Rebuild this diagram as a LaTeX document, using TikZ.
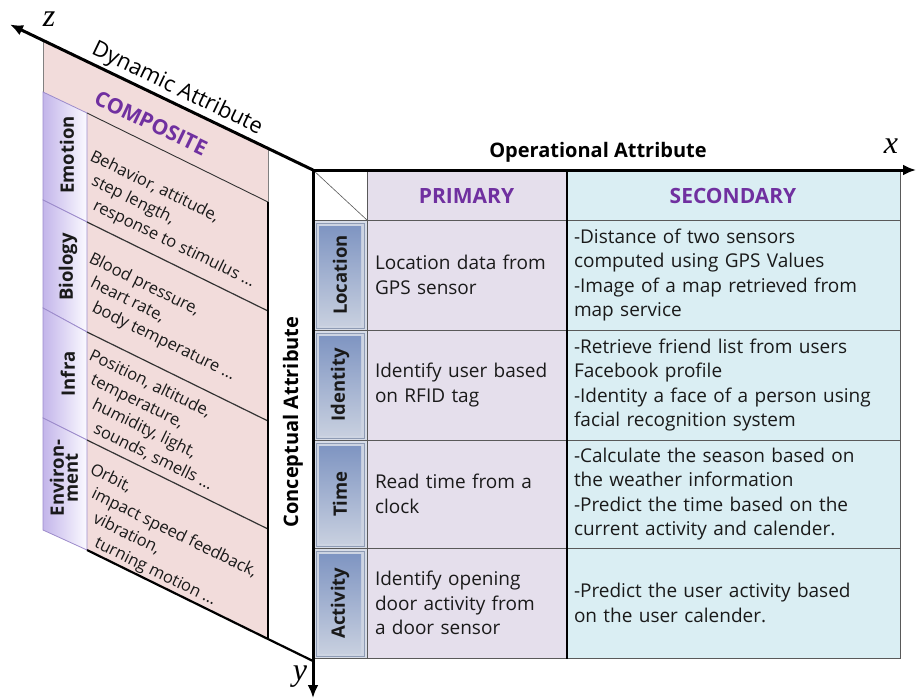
\documentclass[tikz,border=0pt]{standalone}
\usepackage{fontspec}
\setmainfont{Open Sans}[WordSpace=1.6]
\newfontfamily\panelfont{Open Sans}
\newfontfamily\axisfont{Liberation Serif}
\usetikzlibrary{arrows.meta}

\definecolor{pinkfill}{HTML}{F2DCDB}
\definecolor{primfill}{HTML}{E5DFEC}
\definecolor{secfill}{HTML}{DAEEF3}
\definecolor{gridline}{HTML}{595959}
\definecolor{headpurple}{HTML}{7030A0}
\definecolor{lavdark}{HTML}{C3B5EA}
\definecolor{lavlight}{HTML}{FBFAFF}
\definecolor{lavedge}{HTML}{9C8BCB}
\definecolor{btntop}{HTML}{7F95C2}
\definecolor{btnbot}{HTML}{C7CFDF}
\definecolor{btnframe}{HTML}{CDD4E2}
\definecolor{btnedge}{HTML}{8E9BB4}
\definecolor{labelcol}{HTML}{D7DCE7}
\definecolor{inktext}{HTML}{1A1A1A}

\newcommand\tblfont{\fontsize{19}{24.5}\selectfont}
\newcommand\pnlfont{\panelfont\fontsize{16.5}{21.4}\selectfont}
% indent of each further line of a slanted block
\newcommand\ind[1]{\hspace*{#1pt}}

\begin{document}
\begin{tikzpicture}[x=1pt,y=-1pt,
  axisline/.style={line width=3pt,-{Latex[length=13pt,width=11pt]}},
  axislabel/.style={font=\axisfont\itshape\fontsize{32}{32}\selectfont,inner sep=0pt},
  title/.style={font=\panelfont\fontsize{20}{24}\selectfont\bfseries,text=black},
  tblcell/.style={draw=gridline,line width=1pt,inner xsep=8pt,inner ysep=0pt,
    align=left,font=\tblfont,text=inktext},
  primcell/.style={tblcell,fill=primfill,text width=183pt},
  seccell/.style={tblcell,fill=secfill,text width=318pt},
  lblcell/.style={draw=gridline,line width=1pt,fill=labelcol,minimum width=54pt,inner sep=0pt},
  headtext/.style={font=\fontsize{21}{24}\selectfont\bfseries,text=headpurple},
  rowlbl/.style={rotate=90,font=\fontsize{18.5}{20}\selectfont\bfseries,text=inktext},
  dynlbl/.style={rotate=90,font=\fontsize{18.5}{18}\selectfont\bfseries,text=inktext,align=center},
  slantblock/.style={rotate=-26,anchor=north west,font=\pnlfont,text=inktext,inner sep=0pt,align=left},
  sepline/.style={draw=black!80,line width=1.2pt},
  lavbtn/.style={left color=lavdark,right color=lavlight,draw=lavedge,line width=0.8pt}
]
\useasboundingbox (0,0) rectangle (917,699);

% ---------- axes origin and ends ----------
\coordinate (O) at (313,170);
\coordinate (xend) at (916,170);
\coordinate (yend) at (313,698);
\coordinate (zend) at (10,24.5);

% ---------- dynamic attribute panel (slanted plane) ----------
\fill[pinkfill] (43,40.4) -- (268,148.4) -- (268,639) -- (87,550) -- (43,530) -- cycle;
\draw[gray,line width=0.6pt] (43,40.4) -- (43,92);
\draw[gray,line width=0.6pt] (268,148.4) -- (268,202);

% category buttons on the panel
\shade[lavbtn] (43,92) -- (87,113) -- (87,222) -- (43,200) -- cycle;
\shade[lavbtn] (43,200) -- (87,222) -- (87,332) -- (43,308) -- cycle;
\shade[lavbtn] (43,308) -- (87,332) -- (87,440) -- (43,418) -- cycle;
\shade[lavbtn] (43,418) -- (87,440) -- (87,550) -- (43,530) -- cycle;

\node[rowlbl] (emo) at (67,155) {Emotion};
\node[rowlbl] (bio) at (68,267) {Biology};
\node[rowlbl] (infra) at (68,374) {Infra};
\node[dynlbl] (env) at (64,478) {Environ-\\[-4pt]ment};

% row separators on the panel
\draw[sepline,line width=0.9pt] (87,113) -- (268,202);
\draw[sepline] (87,222) -- (268,311);
\draw[sepline] (87,332) -- (268,421);
\draw[sepline] (87,440) -- (268,529);
\draw[black,line width=2.2pt] (268,202) -- (268,639);
\draw[black,line width=2.2pt] (87,550) -- (268,639) -- (313,661);

% panel headings
\node[rotate=-25.6,headtext] (composite) at (151,123) {COMPOSITE};
\node[rotate=-25.6,anchor=south,inner sep=0pt,font=\panelfont\fontsize{22}{24}\selectfont]
  (dyn) at (172.3,99.1) {Dynamic Attribute};

% panel contents (north west corner = first baseline start + strut height)
\node[slantblock] (emotxt) at (95.6,146.5)
  {\strut Behavior, attitude,\\\ind{12.1}step length,\\\ind{24.2}response to stimulus …};
\node[slantblock] (biotxt) at (94.6,248.5)
  {\strut Blood pressure,\\\ind{12.1}heart rate,\\\ind{24.2}body temperature …};
\node[slantblock] (inftxt) at (94.6,345.5)
  {\strut Position, altitude,\\\ind{12.1}temperature,\\\ind{24.2}humidity, light,\\\ind{36.3}sounds, smells …};
\node[slantblock] (envtxt) at (95.6,459.5)
  {\strut Orbit,\\\ind{12.1}impact speed feedback,\\\ind{24.2}vibration,\\\ind{36.3}turning motion …};

% ---------- operational / conceptual table ----------
\node[draw=gridline,line width=1pt,fill=white,minimum width=54pt,minimum height=50pt,inner sep=0pt]
  (corner) at (340,195) {};
\draw[gridline,line width=0.6pt] (corner.north west) -- (corner.south east);
\node[tblcell,fill=primfill,minimum width=199pt,minimum height=50pt,inner sep=0pt] (hprim) at (466.5,195) {};
\node[tblcell,fill=secfill,minimum width=334pt,minimum height=50pt,inner sep=0pt] (hsec) at (733,195) {};
\node[headtext] (tprim) at (466.5,196) {PRIMARY};
\node[headtext] (tsec) at (733,196) {SECONDARY};

% label column
\node[lblcell,minimum height=110pt] (cloc) at (340,275) {};
\node[lblcell,minimum height=110pt] (cid) at (340,385) {};
\node[lblcell,minimum height=108pt] (ctime) at (340,494) {};
\node[lblcell,minimum height=110pt] (cact) at (340,603) {};

% primary column
\node[primcell,minimum height=110pt] (ploc) at (466.5,275) {Location data from\\GPS sensor};
\node[primcell,minimum height=110pt] (pid) at (466.5,385) {Identify user based\\on RFID tag};
\node[primcell,minimum height=108pt] (ptime) at (466.5,494) {Read time from a\\clock};
\node[primcell,minimum height=110pt] (pact) at (466.5,603) {Identify opening\\door activity from\\a door sensor};

% secondary column
\node[seccell,minimum height=110pt] (sloc) at (733,275)
  {-Distance of two sensors\\computed using GPS Values\\-Image of a map retrieved from\\map service};
\node[seccell,minimum height=110pt] (sid) at (733,385)
  {-Retrieve friend list from users\\Facebook profile\\-Identity a face of a person using\\facial recognition system};
\node[seccell,minimum height=108pt] (stime) at (733,494)
  {-Calculate the season based on\\the weather information\\-Predict the time based on the\\current activity and calender.};
\node[seccell,minimum height=110pt] (sact) at (733,603)
  {-Predict the user activity based\\on the user calender.};

% row buttons
\foreach \t/\b in {220/330,330/440,440/548,548/658}{
  \filldraw[fill=btnframe,draw=btnedge,line width=0.8pt] (316,\t+3) rectangle (364,\b-2);
  \shade[top color=btntop,bottom color=btnbot] (319,\t+6) rectangle (361,\b-5);
}
\node[rowlbl] (rloc) at (340,275) {Location};
\node[rowlbl] (rid) at (340,385) {Identity};
\node[rowlbl] (rtime) at (340,494) {Time};
\node[rowlbl] (ract) at (340,603) {Activity};

% column divider between primary and secondary
\draw[black,line width=2pt] (hprim.north east) -- (pact.south east);

% ---------- axis titles ----------
\node[title] (optitle) at (598,152) {Operational Attribute};
\node[title,rotate=90] (cotitle) at (293,422) {Conceptual Attribute};

% ---------- axes ----------
\draw[axisline] (O) -- (xend);
\draw[axisline] (O) -- (yend);
\draw[axisline] (O) -- (zend);
\node[axislabel] (xl) at (891,146) {x};
\node[axislabel] (yl) at (300,677) {y};
\node[axislabel] (zl) at (49,19) {z};
\end{tikzpicture}
\end{document}
